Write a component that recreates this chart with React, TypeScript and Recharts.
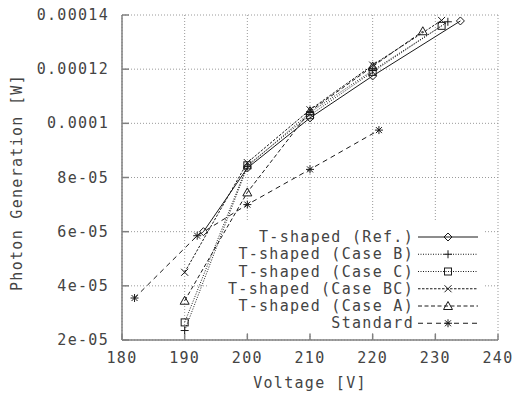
import { LineChart, Line, XAxis, YAxis, CartesianGrid, Legend, Customized } from 'recharts';

const xTicks = [180, 190, 200, 210, 220, 230, 240];
const yTicks = [2e-5, 4e-5, 6e-5, 8e-5, 1e-4, 1.2e-4, 1.4e-4];
const yTickLabels = ['2e-05', '4e-05', '6e-05', '8e-05', '0.0001', '0.00012', '0.00014'];

const refVoltage = [193, 200, 210, 220, 234];
const refPower = [6.0e-5, 8.35e-5, 1.02e-4, 1.175e-4, 1.378e-4];
const caseBVoltage = [190, 200, 210, 220, 232];
const caseBPower = [2.35e-5, 8.4e-5, 1.04e-4, 1.195e-4, 1.375e-4];
const caseCVoltage = [190, 200, 210, 220, 231];
const caseCPower = [2.65e-5, 8.45e-5, 1.03e-4, 1.19e-4, 1.36e-4];
const caseBCVoltage = [190, 200, 210, 220, 231];
const caseBCPower = [4.5e-5, 8.55e-5, 1.05e-4, 1.215e-4, 1.38e-4];
const caseAVoltage = [190, 200, 210, 220, 228];
const caseAPower = [3.45e-5, 7.45e-5, 1.045e-4, 1.21e-4, 1.34e-4];
const stdVoltage = [182, 192, 200, 210, 221];
const stdPower = [3.55e-5, 5.85e-5, 7.0e-5, 8.3e-5, 9.75e-5];

const series = [
  { name: 'T-shaped (Ref.)', x: refVoltage, y: refPower, dash: undefined, shape: 'diamond' },
  { name: 'T-shaped (Case B)', x: caseBVoltage, y: caseBPower, dash: '1 1.5', shape: 'plus' },
  { name: 'T-shaped (Case C)', x: caseCVoltage, y: caseCPower, dash: '1 1.5', shape: 'square' },
  { name: 'T-shaped (Case BC)', x: caseBCVoltage, y: caseBCPower, dash: '2.5 1.5', shape: 'cross' },
  { name: 'T-shaped (Case A)', x: caseAVoltage, y: caseAPower, dash: '4 2.5', shape: 'triangle' },
  { name: 'Standard', x: stdVoltage, y: stdPower, dash: '5 4', shape: 'star' },
];

const FONT = '"DejaVu Sans Mono", monospace';
const TEXT = '#444';
const BORDER = '#808080';
const INK = '#1a1a1a';

function Marker({ shape, cx, cy }: { shape: string; cx: number; cy: number }) {
  const p = { stroke: INK, strokeWidth: 1, fill: 'none' };
  const s = 4;
  switch (shape) {
    case 'diamond':
      return <polygon points={`${cx},${cy - s} ${cx + s},${cy} ${cx},${cy + s} ${cx - s},${cy}`} {...p} />;
    case 'plus':
      return <path d={`M${cx - s},${cy}H${cx + s}M${cx},${cy - s}V${cy + s}`} {...p} />;
    case 'square':
      return <rect x={cx - 3.5} y={cy - 3.5} width={7} height={7} {...p} />;
    case 'cross':
      return <path d={`M${cx - 3.5},${cy - 3.5}L${cx + 3.5},${cy + 3.5}M${cx - 3.5},${cy + 3.5}L${cx + 3.5},${cy - 3.5}`} {...p} />;
    case 'triangle':
      return <polygon points={`${cx},${cy - 4.5} ${cx + 4.5},${cy + 3.5} ${cx - 4.5},${cy + 3.5}`} {...p} />;
    default:
      return (
        <path
          d={`M${cx - s},${cy}H${cx + s}M${cx},${cy - s}V${cy + s}M${cx - 3},${cy - 3}L${cx + 3},${cy + 3}M${cx - 3},${cy + 3}L${cx + 3},${cy - 3}`}
          {...p}
        />
      );
  }
}

const textStyle = { fontFamily: FONT, fontSize: 15, letterSpacing: 1.3, fill: TEXT };

function BottomTick({ x, y, payload }: any) {
  return (
    <g>
      <line x1={x} y1={y} x2={x} y2={y - 6} stroke={BORDER} strokeWidth={1.5} />
      <text x={x} y={y + 18} textAnchor="middle" dominantBaseline="central" style={textStyle}>
        {payload.value}
      </text>
    </g>
  );
}

function TopTick({ x, y }: any) {
  return <line x1={x} y1={y} x2={x} y2={y + 6} stroke={BORDER} strokeWidth={1.5} />;
}

function LeftTick({ x, y, payload, index }: any) {
  return (
    <g>
      <line x1={x} y1={y} x2={x + 7} y2={y} stroke={BORDER} strokeWidth={1.5} />
      <text x={x - 13} y={y} textAnchor="end" dominantBaseline="central" style={textStyle}>
        {yTickLabels[index] ?? payload.value}
      </text>
    </g>
  );
}

function RightTick({ x, y }: any) {
  return <line x1={x} y1={y} x2={x - 7} y2={y} stroke={BORDER} strokeWidth={1.5} />;
}

// opaque key area: hides the grid but sits under the data lines
function KeyBackground() {
  return <rect x={207} y={222} width={278} height={111} fill="#fff" />;
}

function KeyBox() {
  return (
    <svg width={266} height={106} style={{ display: 'block', overflow: 'visible' }}>
      {series.map((s, i) => {
        const cy = 10 + i * 17.25;
        return (
          <g key={s.name}>
            <text x={196} y={cy} textAnchor="end" dominantBaseline="central" style={textStyle}>
              {s.name}
            </text>
            <line x1={200} y1={cy} x2={260} y2={cy} stroke={INK} strokeWidth={1} strokeDasharray={s.dash} />
            <Marker shape={s.shape} cx={230} cy={cy} />
          </g>
        );
      })}
    </svg>
  );
}

export default function App() {
  return (
    <div style={{ position: 'absolute', left: 0, top: 0, width: 513, height: 394, background: '#fff' }}>
      <LineChart width={513} height={394} margin={{ top: 15, right: 15, bottom: 0, left: 0 }}>
        <CartesianGrid stroke="#9a9a9a" strokeDasharray="1 2" />
        <Customized component={KeyBackground} />
        <XAxis
          dataKey="v"
          type="number"
          domain={[180, 240]}
          ticks={xTicks}
          allowDataOverflow
          height={54}
          tickSize={0}
          tickMargin={0}
          tickLine={false}
          axisLine={{ stroke: BORDER, strokeWidth: 1.5 }}
          tick={<BottomTick />}
          label={{ value: 'Voltage [V]', position: 'insideBottom', offset: 6, style: { ...textStyle } }}
        />
        <XAxis
          xAxisId="top"
          orientation="top"
          type="number"
          domain={[180, 240]}
          ticks={xTicks}
          height={0}
          tickSize={0}
          tickMargin={0}
          tickLine={false}
          axisLine={{ stroke: BORDER, strokeWidth: 1.5 }}
          tick={<TopTick />}
        />
        <YAxis
          type="number"
          domain={[2e-5, 1.4e-4]}
          ticks={yTicks}
          allowDataOverflow
          width={122}
          tickSize={0}
          tickMargin={0}
          tickLine={false}
          axisLine={{ stroke: BORDER, strokeWidth: 1.5 }}
          tick={<LeftTick />}
          label={{
            content: (p: any) => {
              const vb = p.viewBox || { x: 0, y: 15, height: 325 };
              const cx = 17;
              const cy = vb.y + vb.height / 2 + 5;
              return (
                <text
                  x={cx}
                  y={cy}
                  transform={`rotate(-90 ${cx} ${cy})`}
                  textAnchor="middle"
                  dominantBaseline="central"
                  style={textStyle}
                >
                  Photon Generation [W]
                </text>
              );
            },
          }}
        />
        <YAxis
          yAxisId="right"
          orientation="right"
          type="number"
          domain={[2e-5, 1.4e-4]}
          ticks={yTicks}
          width={0}
          tickSize={0}
          tickMargin={0}
          tickLine={false}
          axisLine={{ stroke: BORDER, strokeWidth: 1.5 }}
          tick={<RightTick />}
        />
        {series.map((s) => (
          <Line
            key={s.name}
            name={s.name}
            data={s.x.map((v, i) => ({ v, p: s.y[i] }))}
            dataKey="p"
            type="linear"
            stroke={INK}
            strokeWidth={1}
            strokeDasharray={s.dash}
            dot={(d: any) => <Marker key={`${s.name}-${d.index}`} shape={s.shape} cx={d.cx} cy={d.cy} />}
            activeDot={false}
            isAnimationActive={false}
          />
        ))}
        <Legend
          layout="horizontal"
          verticalAlign="middle"
          align="center"
          content={() => <KeyBox />}
          wrapperStyle={{ position: 'absolute', left: 218, top: 227, width: 266, height: 106 }}
        />
      </LineChart>
    </div>
  );
}
